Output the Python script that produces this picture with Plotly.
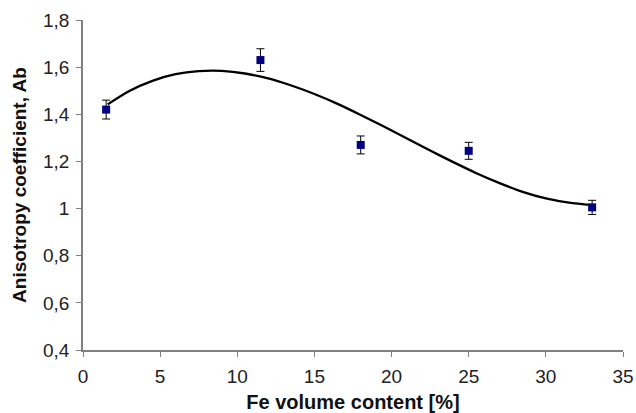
import plotly.graph_objects as go

# Measured points
fe_content = [1.5, 11.5, 18, 25, 33]
anisotropy = [1.42, 1.63, 1.27, 1.245, 1.005]
error_ab = [0.04, 0.048, 0.038, 0.036, 0.03]

# Trend curve
curve_x = [1.6, 3.0, 4.5, 6.0, 7.5, 9.0, 10.5, 12.0, 13.5, 15.0, 16.5, 18.0, 19.5, 21.0,
           22.5, 24.0, 25.5, 27.0, 28.5, 30.0, 31.5, 33.0]
curve_y = [1.442, 1.499, 1.542, 1.570, 1.583, 1.584, 1.573, 1.552, 1.522, 1.486, 1.444, 1.397,
           1.348, 1.297, 1.246, 1.197, 1.150, 1.108, 1.071, 1.043, 1.025, 1.015]

x_ticks = [0, 5, 10, 15, 20, 25, 30, 35]
y_ticks = [0.4, 0.6, 0.8, 1.0, 1.2, 1.4, 1.6, 1.8]
y_tick_labels = ["0,4", "0,6", "0,8", "1", "1,2", "1,4", "1,6", "1,8"]

fig = go.Figure()
fig.add_trace(go.Scatter(
    x=curve_x, y=curve_y, mode="lines",
    line=dict(color="black", width=2.3, shape="spline", smoothing=0.8),
    hoverinfo="skip", showlegend=False))
fig.add_trace(go.Scatter(
    x=fe_content, y=anisotropy, mode="markers",
    marker=dict(symbol="square", size=8, color="#000080"),
    error_y=dict(type="data", array=error_ab, color="black", thickness=1, width=4),
    showlegend=False))

font_family = "Liberation Sans, Arial, sans-serif"
fig.update_layout(
    width=636, height=413,
    margin=dict(l=83, r=13, t=20, b=63),
    paper_bgcolor="white", plot_bgcolor="white",
    font=dict(family=font_family, size=19, color="#222222"),
    xaxis=dict(
        range=[0, 35], tickvals=x_ticks, showgrid=False, zeroline=False,
        showline=True, linecolor="#808080", linewidth=1.5, automargin=False,
        ticks="outside", ticklen=5, tickcolor="#808080", ticklabelstandoff=3,
        tickfont=dict(size=19, color="#222222"),
        title=dict(text="<b>Fe volume content [%]</b>", font=dict(size=20, color="#111111"), standoff=11),
    ),
    yaxis=dict(
        range=[0.4, 1.8], tickvals=y_ticks, ticktext=y_tick_labels, showgrid=False, zeroline=False,
        showline=True, linecolor="#808080", linewidth=1.5, automargin=False,
        ticks="outside", ticklen=5, tickcolor="#808080", ticklabelstandoff=3,
        tickfont=dict(size=19, color="#222222"),
        title=dict(text="<b>Anisotropy coefficient, Ab</b>", font=dict(size=19, color="#111111"), standoff=11),
    ),
)

fig.write_html("out.html")
